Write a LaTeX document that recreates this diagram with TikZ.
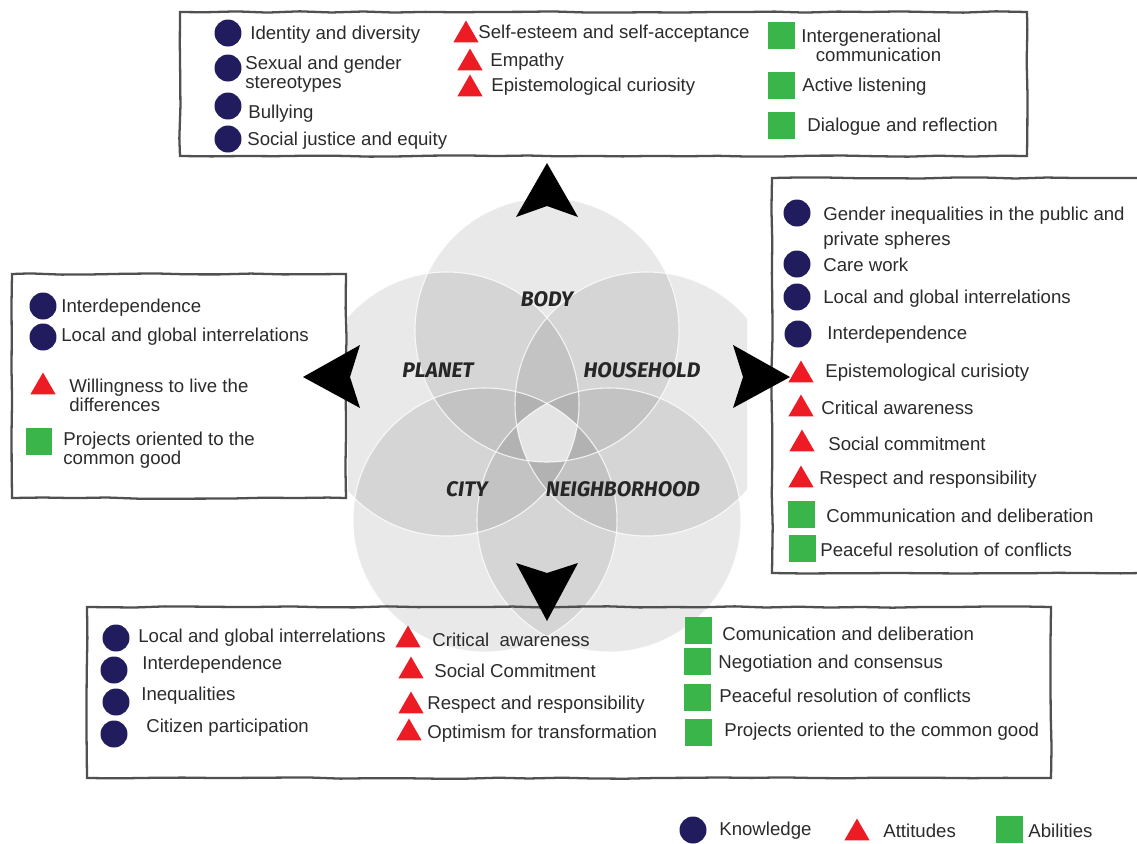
\documentclass[tikz,border=0pt]{standalone}
\usepackage{fontspec}
\setmainfont{Liberation Sans}
\newfontfamily\vennfont{Fira Sans}
\usetikzlibrary{shapes.geometric, decorations.pathmorphing}

\definecolor{knowblue}{HTML}{201C5E}
\definecolor{attred}{HTML}{ED1C24}
\definecolor{abgreen}{HTML}{39B54A}
\definecolor{framegray}{HTML}{505050}
\definecolor{textgray}{HTML}{2B2B2B}
\definecolor{venncore}{HTML}{E4E4E4}

\begin{document}
\begin{tikzpicture}[ % one unit is one pixel of the reference
x=0.02cm, y=-0.02cm,
knowledge/.style={circle, fill=knowblue, inner sep=0pt, minimum size=0.54cm},
attitude/.style={regular polygon, regular polygon sides=3, fill=attred, inner sep=0pt, minimum size=0.58cm},
ability/.style={rectangle, fill=abgreen, inner sep=0pt, minimum size=0.54cm},
item/.style={anchor=west, inner sep=0pt, yshift=-0.04cm, text=textgray, align=left, font=\fontsize{10.6}{10.8}\selectfont},
wide_item/.style={item, font=\fontsize{10.6}{14.2}\selectfont},
venn_label/.style={inner sep=0pt, text=black!85, font=\vennfont\bfseries\itshape\fontsize{12}{12}\selectfont},
sketch_frame/.style={draw=framegray, line width=1.3pt, decorate, decoration={random steps, segment length=18pt, amplitude=0.4pt}},
big_arrow/.style={fill=black}
]

\useasboundingbox (0,0) rectangle (1137,843);

% the five circles
\begin{scope}
\clip (348,150) rectangle (747,700);
\foreach \cx/\cy in {547/330, 447/404, 647/404, 485/520, 609/520}
  \fill[black, fill opacity=0.085] (\cx,\cy) circle (132);
\begin{scope}
\clip (547,330) circle (132);
\clip (447,404) circle (132);
\clip (647,404) circle (132);
\clip (485,520) circle (132);
\clip (609,520) circle (132);
\fill[venncore] (447,300) rectangle (647,560);
\end{scope}
\foreach \cx/\cy in {547/330, 447/404, 647/404, 485/520, 609/520}
  \draw[white, line width=0.6pt, opacity=0.8] (\cx,\cy) circle (132);
\end{scope}

\node[venn_label](body) at (547,299) {BODY};
\node[venn_label](planet) at (438,370) {PLANET};
\node[venn_label](household) at (642,370) {HOUSEHOLD};
\node[venn_label](city) at (467,489) {CITY};
\node[venn_label](neighborhood) at (623,489) {NEIGHBORHOOD};


% body
\draw[sketch_frame] (180,12) rectangle (1027,156);

\node[knowledge](body_k1) at (228,33) {};
\node[item](body_k1_text) at (250,33) {Identity and diversity};
\node[knowledge](body_k2) at (228,68) {};
\node[item](body_k2_text) at (245,72) {Sexual and gender\\stereotypes};
\node[knowledge](body_k3) at (228,106) {};
\node[item](body_k3_text) at (248,112) {Bullying};
\node[knowledge](body_k4) at (228,139) {};
\node[item](body_k4_text) at (247,139) {Social justice and equity};

\node[attitude](body_a1) at (466,35) {};
\node[item](body_a1_text) at (478,32) {Self-esteem and self-acceptance};
\node[attitude](body_a2) at (470,63) {};
\node[item](body_a2_text) at (490,60) {Empathy};
\node[attitude](body_a3) at (470,89) {};
\node[item](body_a3_text) at (491,85) {Epistemological curiosity};

\node[ability](body_b1) at (781,35) {};
\node[item, align=right](body_b1_text) at (801,43) {Intergenerational\\communication};
\node[ability](body_b2) at (781,85) {};
\node[item](body_b2_text) at (802,85) {Active listening};
\node[ability](body_b3) at (781,125) {};
\node[item](body_b3_text) at (807,125) {Dialogue and reflection};


% planet
\draw[sketch_frame] (12,274) rectangle (346,498);

\node[knowledge](planet_k1) at (43,306) {};
\node[item](planet_k1_text) at (61,306) {Interdependence};
\node[knowledge](planet_k2) at (43,337) {};
\node[item](planet_k2_text) at (61,335) {Local and global interrelations};
\node[attitude](planet_a1) at (43,387) {};
\node[item](planet_a1_text) at (69,393) {Willingness to live the\\differences};
\node[ability](planet_b1) at (39,441) {};
\node[item](planet_b1_text) at (63,448) {Projects oriented to the\\common good};


% household
\draw[sketch_frame] (772,178) rectangle (1142,573);

\node[knowledge](household_k1) at (797,213) {};
\node[wide_item](household_k1_text) at (823,226) {Gender inequalities in the public and\\private spheres};
\node[knowledge](household_k2) at (797,264) {};
\node[item](household_k2_text) at (823,263) {Care work};
\node[knowledge](household_k3) at (797,297) {};
\node[item](household_k3_text) at (823,297) {Local and global interrelations};
\node[knowledge](household_k4) at (798,334) {};
\node[item](household_k4_text) at (827,333) {Interdependence};

\node[attitude](household_a1) at (801,375) {};
\node[item](household_a1_text) at (825,371) {Epistemological curisioty};
\node[attitude](household_a2) at (801,409) {};
\node[item](household_a2_text) at (821,406) {Critical awareness};
\node[attitude](household_a3) at (802,444) {};
\node[item](household_a3_text) at (828,442) {Social commitment};
\node[attitude](household_a4) at (801,480) {};
\node[item](household_a4_text) at (819,478) {Respect and responsibility};

\node[ability](household_b1) at (801,514) {};
\node[item](household_b1_text) at (826,514) {Communication and deliberation};
\node[ability](household_b2) at (802,548) {};
\node[item](household_b2_text) at (820,548) {Peaceful resolution of conflicts};


% city and neighborhood
\draw[sketch_frame] (87,607) rectangle (1051,778);

\node[knowledge](city_k1) at (116,638) {};
\node[item](city_k1_text) at (138,636) {Local and global interrelations};
\node[knowledge](city_k2) at (114,670) {};
\node[item](city_k2_text) at (142,663) {Interdependence};
\node[knowledge](city_k3) at (116,702) {};
\node[item](city_k3_text) at (141,694) {Inequalities};
\node[knowledge](city_k4) at (114,734) {};
\node[item](city_k4_text) at (146,726) {Citizen participation};

\node[attitude](city_a1) at (408,640) {};
\node[item](city_a1_text) at (432,638) {Critical\ \ awareness};
\node[attitude](city_a2) at (411,671) {};
\node[item](city_a2_text) at (434,669) {Social Commitment};
\node[attitude](city_a3) at (411,706) {};
\node[item](city_a3_text) at (427,703) {Respect and responsibility};
\node[attitude](city_a4) at (409,733) {};
\node[item](city_a4_text) at (427,732) {Optimism for transformation};

\node[ability](city_b1) at (698,630) {};
\node[item](city_b1_text) at (722,632) {Comunication and deliberation};
\node[ability](city_b2) at (697,661) {};
\node[item](city_b2_text) at (718,662) {Negotiation and consensus};
\node[ability](city_b3) at (697,697) {};
\node[item](city_b3_text) at (719,694) {Peaceful resolution of conflicts};
\node[ability](city_b4) at (698,732) {};
\node[item](city_b4_text) at (724,730) {Projects oriented to the common good};


% arrows out of the circles
\fill[big_arrow] (547,163) -- (578,217) -- (547,206) -- (516,217) -- cycle;
\fill[big_arrow] (303,377) -- (360,345) -- (350,377) -- (360,408) -- cycle;
\fill[big_arrow] (790,377) -- (733,345) -- (743,377) -- (733,408) -- cycle;
\fill[big_arrow] (547,621) -- (516,563) -- (547,573) -- (578,563) -- cycle;


% legend
\node[knowledge](legend_k) at (693,830) {};
\node[item](legend_k_text) at (719,829) {Knowledge};
\node[attitude](legend_a) at (857,833) {};
\node[item](legend_a_text) at (883,829) {Attitudes};
\node[ability](legend_b) at (1009,829) {};
\node[item](legend_b_text) at (1028,829) {Abilities};

\end{tikzpicture}
\end{document}
